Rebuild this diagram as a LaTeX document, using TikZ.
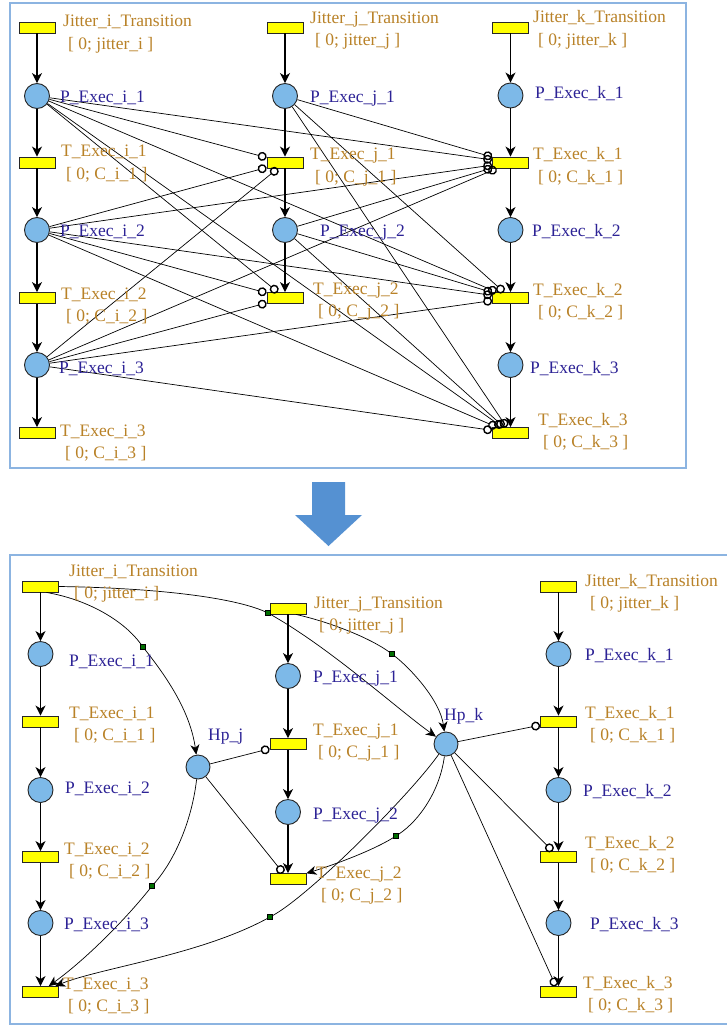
\documentclass[tikz,border=0pt]{standalone}
\usepackage{fontspec}
\setmainfont{Liberation Serif}
\usetikzlibrary{arrows.meta}
\definecolor{tyel}{RGB}{255,255,0}
\definecolor{pblue}{RGB}{125,185,232}
\definecolor{plabc}{RGB}{45,35,150}
\definecolor{tlabc}{RGB}{185,130,40}
\definecolor{framec}{RGB}{140,180,225}
\definecolor{bigarrowc}{RGB}{85,145,210}
\definecolor{sqgreen}{RGB}{0,110,0}
\newcommand{\tlabtwo}[6]{%
  \node[tl] (#1a) at (#2,#3) {#5};
  \node[tl] (#1b) at ({#2+5},{#3+#4}) {#6};}
\begin{document}
\begin{tikzpicture}[x=1pt,y=-1pt,
  trans/.style={rectangle, draw=black!85, fill=tyel, line width=0.9pt, minimum width=36pt, minimum height=11pt, inner sep=0pt},
  place/.style={circle, draw=black!85, fill=pblue, line width=0.9pt, minimum size=25pt, inner sep=0pt},
  pl/.style={text=plabc, anchor=base west, inner sep=0pt, font=\fontsize{17.5}{20}\selectfont},
  tl/.style={text=tlabc, anchor=base west, inner sep=0pt, font=\fontsize{17.5}{20}\selectfont},
  arc/.style={line width=1.1pt, -{Stealth[length=10pt,width=10pt,inset=3pt]}},
  inh/.style={line width=0.7pt, -{Circle[open,length=9pt,width=9pt,line width=1.4pt]}},
  bendsq/.style={rectangle, draw=black, fill=sqgreen, minimum size=5pt, inner sep=0pt, line width=0.4pt},
  crv/.style={line width=0.7pt},
  crva/.style={line width=0.7pt, -{Stealth[length=10pt,width=9pt,inset=3pt]}},
  frm/.style={draw=framec, line width=1.5pt},
]
\useasboundingbox (0,0) rectangle (726,1025);
\fill[white] (0,0) rectangle (726,1025);

% ---------------- frames and big arrow
\draw[frm] (10,3) rectangle (686,468);
\draw[frm] (10,555) rectangle (745,1024);
\fill[bigarrowc] (312,482) -- (345,482) -- (345,515) -- (362,515) -- (328.5,546) -- (295,515) -- (312,515) -- cycle;

% ================= TOP PANEL
\node[trans] (tJi) at (37,27.5) {};
\node[place] (tPi1) at (37,96) {};
\node[trans] (tTi1) at (37,162.5) {};
\node[place] (tPi2) at (37,230) {};
\node[trans] (tTi2) at (37,298) {};
\node[place] (tPi3) at (37,365) {};
\node[trans] (tTi3) at (37,433) {};

\node[trans] (tJj) at (285,27.5) {};
\node[place] (tPj1) at (285,96) {};
\node[trans] (tTj1) at (285,162.5) {};
\node[place] (tPj2) at (285,230) {};
\node[trans] (tTj2) at (285,298) {};

\node[trans] (tJk) at (510.5,27.5) {};
\node[place] (tPk1) at (510.5,95.5) {};
\node[trans] (tTk1) at (510.5,162.5) {};
\node[place] (tPk2) at (510.5,230) {};
\node[trans] (tTk2) at (510.5,298) {};
\node[place] (tPk3) at (510.5,365) {};
\node[trans] (tTk3) at (510.5,433) {};

\draw[arc] (tJi) -- (tPi1);
\draw[arc] (tPi1) -- (tTi1);
\draw[arc] (tTi1) -- (tPi2);
\draw[arc] (tPi2) -- (tTi2);
\draw[arc] (tTi2) -- (tPi3);
\draw[arc] (tPi3) -- (tTi3);
\draw[arc] (tJj) -- (tPj1);
\draw[arc] (tPj1) -- (tTj1);
\draw[arc] (tTj1) -- (tPj2);
\draw[arc] (tPj2) -- (tTj2);
\draw[arc] (tJk) -- (tPk1);
\draw[arc] (tPk1) -- (tTk1);
\draw[arc] (tTk1) -- (tPk2);
\draw[arc] (tPk2) -- (tTk2);
\draw[arc] (tTk2) -- (tPk3);
\draw[arc] (tPk3) -- (tTk3);

\foreach \p in {tPi1,tPi2,tPi3}{
  \foreach \t in {tTj1,tTj2,tTk1,tTk2,tTk3}{
    \draw[inh] (\p) -- (\t);}}
\foreach \p in {tPj1,tPj2}{
  \foreach \t in {tTk1,tTk2,tTk3}{
    \draw[inh] (\p) -- (\t);}}

\tlabtwo{tlJi}{63}{27}{23}{Jitter\_i\_Transition}{[ 0; jitter\_i ]}
\node[pl] (tlPi1) at (60,102) {P\_Exec\_i\_1};
\tlabtwo{tlTi1}{61}{156}{23}{T\_Exec\_i\_1}{[ 0; C\_i\_1 ]}
\node[pl] (tlPi2) at (60,236) {P\_Exec\_i\_2};
\tlabtwo{tlTi2}{61}{299}{22}{T\_Exec\_i\_2}{[ 0; C\_i\_2 ]}
\node[pl] (tlPi3) at (59,373) {P\_Exec\_i\_3};
\tlabtwo{tlTi3}{60}{436}{22}{T\_Exec\_i\_3}{[ 0; C\_i\_3 ]}

\tlabtwo{tlJj}{310}{24}{22}{Jitter\_j\_Transition}{[ 0; jitter\_j ]}
\node[pl] (tlPj1) at (310,102) {P\_Exec\_j\_1};
\tlabtwo{tlTj1}{310}{159}{23}{T\_Exec\_j\_1}{[ 0; C\_j\_1 ]}
\node[pl] (tlPj2) at (320,236) {P\_Exec\_j\_2};
\tlabtwo{tlTj2}{313}{294}{22}{T\_Exec\_j\_2}{[ 0; C\_j\_2 ]}

\tlabtwo{tlJk}{533}{23}{23}{Jitter\_k\_Transition}{[ 0; jitter\_k ]}
\node[pl] (tlPk1) at (535,99) {P\_Exec\_k\_1};
\tlabtwo{tlTk1}{533}{159}{23}{T\_Exec\_k\_1}{[ 0; C\_k\_1 ]}
\node[pl] (tlPk2) at (532,236) {P\_Exec\_k\_2};
\tlabtwo{tlTk2}{533}{295}{22}{T\_Exec\_k\_2}{[ 0; C\_k\_2 ]}
\node[pl] (tlPk3) at (530,373) {P\_Exec\_k\_3};
\tlabtwo{tlTk3}{538}{425}{22}{T\_Exec\_k\_3}{[ 0; C\_k\_3 ]}

% ================= BOTTOM PANEL
\node[trans] (bJi) at (40.5,586.5) {};
\node[place] (bPi1) at (40.5,654) {};
\node[trans] (bTi1) at (40.5,721.5) {};
\node[place] (bPi2) at (40.5,790) {};
\node[trans] (bTi2) at (40.5,857) {};
\node[place] (bPi3) at (40.5,923) {};
\node[trans] (bTi3) at (40.5,992) {};

\node[trans] (bJj) at (288,608.5) {};
\node[place] (bPj1) at (288,676) {};
\node[trans] (bTj1) at (288,744) {};
\node[place] (bPj2) at (288,812) {};
\node[trans] (bTj2) at (288,879) {};

\node[trans] (bJk) at (558.5,586.5) {};
\node[place] (bPk1) at (558.5,654) {};
\node[trans] (bTk1) at (558.5,721.5) {};
\node[place] (bPk2) at (558.5,790) {};
\node[trans] (bTk2) at (558.5,857) {};
\node[place] (bPk3) at (558.5,923) {};
\node[trans] (bTk3) at (558.5,992) {};

\node[place, minimum size=24pt] (bHj) at (198,767) {};
\node[place, minimum size=24pt] (bHk) at (446,744) {};

\node[bendsq] (s1) at (143,647) {};
\node[bendsq] (s2) at (268,613) {};
\node[bendsq] (s3) at (392,654) {};
\node[bendsq] (s4) at (152,886) {};
\node[bendsq] (s5) at (396,836) {};
\node[bendsq] (s6) at (270,917) {};

\draw[arc] (bJi) -- (bPi1);
\draw[arc] (bPi1) -- (bTi1);
\draw[arc] (bTi1) -- (bPi2);
\draw[arc] (bPi2) -- (bTi2);
\draw[arc] (bTi2) -- (bPi3);
\draw[arc] (bPi3) -- (bTi3);
\draw[arc] (bJj) -- (bPj1);
\draw[arc] (bPj1) -- (bTj1);
\draw[arc] (bTj1) -- (bPj2);
\draw[arc] (bPj2) -- (bTj2);
\draw[arc] (bJk) -- (bPk1);
\draw[arc] (bPk1) -- (bTk1);
\draw[arc] (bTk1) -- (bPk2);
\draw[arc] (bPk2) -- (bTk2);
\draw[arc] (bTk2) -- (bPk3);
\draw[arc] (bPk3) -- (bTk3);

% curved arcs through bend squares
\draw[crv] ([xshift=6pt]bJi.south) .. controls (90,600) and (125,622) .. (s1);
\draw[crva] (s1) .. controls (165,675) and (190,710) .. (bHj);
\draw[crv] (bJi.east) .. controls (160,588) and (235,598) .. (s2);
\draw[crva] (s2) .. controls (330,648) and (395,707) .. (bHk);
\draw[crv] ([xshift=8pt]bJj.south) .. controls (330,622) and (370,638) .. (s3);
\draw[crva] (s3) .. controls (410,668) and (440,700) .. (bHk);
\draw[crv] (bHj) .. controls (192,820) and (175,860) .. (s4);
\draw[crva] (s4) .. controls (125,920) and (85,960) .. (bTi3);
\draw[crv] (bHk) .. controls (440,790) and (420,820) .. (s5);
\draw[crva] (s5) .. controls (370,852) and (330,866) .. (bTj2);
\draw[crv] (bHk) .. controls (410,795) and (310,895) .. (s6);
\draw[crva] (s6) .. controls (200,955) and (100,968) .. (bTi3);

% inhibitor arcs
\draw[inh] (bHj) -- (bTj1);
\draw[inh] (bHj) -- (bTj2);
\draw[inh] (bHk) -- (bTk1);
\draw[inh] (bHk) -- (bTk2);
\draw[inh] (bHk) -- (bTk3);

% labels
\tlabtwo{blJi}{69}{576}{22}{Jitter\_i\_Transition}{[ 0; jitter\_i ]}
\node[pl] (blPi1) at (69,666) {P\_Exec\_i\_1};
\tlabtwo{blTi1}{69}{718}{22}{T\_Exec\_i\_1}{[ 0; C\_i\_1 ]}
\node[pl] (blPi2) at (65,793) {P\_Exec\_i\_2};
\tlabtwo{blTi2}{64}{854}{22}{T\_Exec\_i\_2}{[ 0; C\_i\_2 ]}
\node[pl] (blPi3) at (64,929) {P\_Exec\_i\_3};
\tlabtwo{blTi3}{63}{989}{22}{T\_Exec\_i\_3}{[ 0; C\_i\_3 ]}
\node[pl] (blHj) at (208,740) {Hp\_j};
\node[pl] (blHk) at (444,720) {Hp\_k};

\tlabtwo{blJj}{314}{608}{22}{Jitter\_j\_Transition}{[ 0; jitter\_j ]}
\node[pl] (blPj1) at (313,682) {P\_Exec\_j\_1};
\tlabtwo{blTj1}{313}{735}{22}{T\_Exec\_j\_1}{[ 0; C\_j\_1 ]}
\node[pl] (blPj2) at (313,819) {P\_Exec\_j\_2};
\tlabtwo{blTj2}{316}{878}{22}{T\_Exec\_j\_2}{[ 0; C\_j\_2 ]}

\tlabtwo{blJk}{585}{586}{22}{Jitter\_k\_Transition}{[ 0; jitter\_k ]}
\node[pl] (blPk1) at (585,660) {P\_Exec\_k\_1};
\tlabtwo{blTk1}{585}{718}{22}{T\_Exec\_k\_1}{[ 0; C\_k\_1 ]}
\node[pl] (blPk2) at (583,796) {P\_Exec\_k\_2};
\tlabtwo{blTk2}{585}{848}{22}{T\_Exec\_k\_2}{[ 0; C\_k\_2 ]}
\node[pl] (blPk3) at (590,929) {P\_Exec\_k\_3};
\tlabtwo{blTk3}{583}{988}{22}{T\_Exec\_k\_3}{[ 0; C\_k\_3 ]}
\end{tikzpicture}
\end{document}
